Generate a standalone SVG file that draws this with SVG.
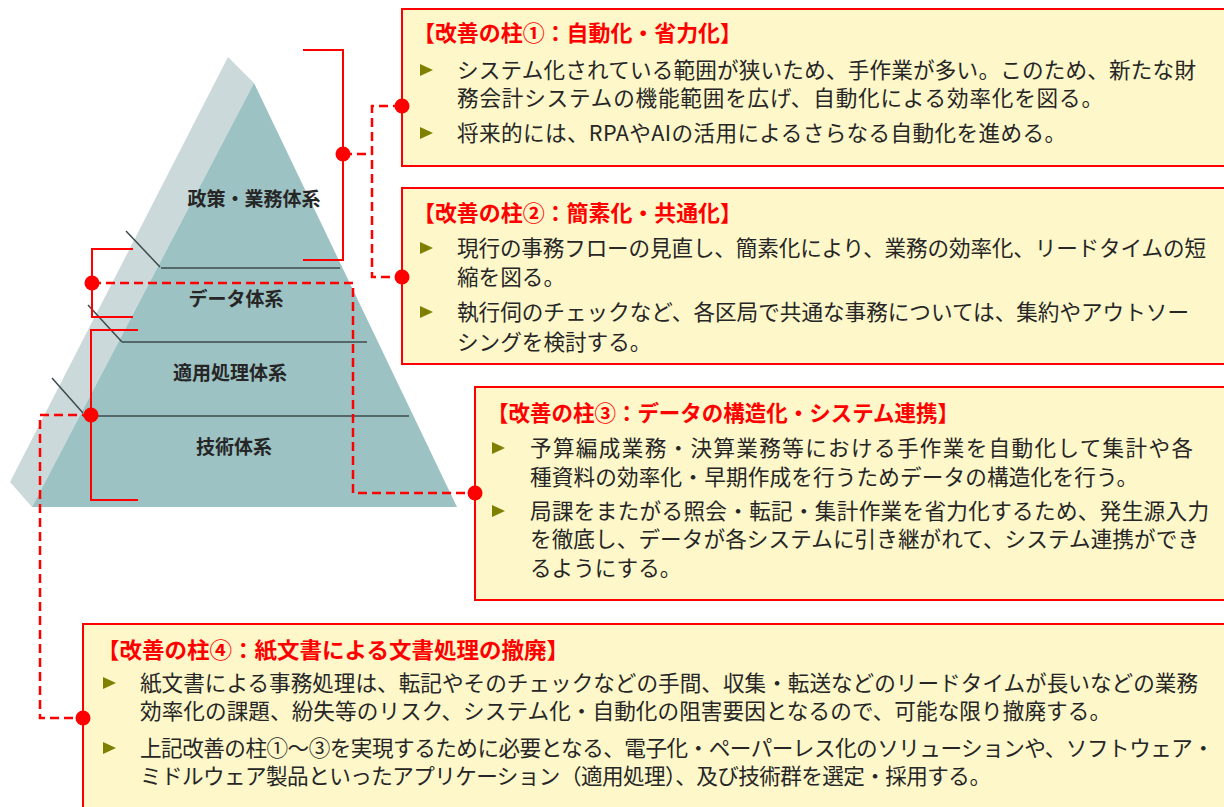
<svg xmlns="http://www.w3.org/2000/svg" xmlns:xlink="http://www.w3.org/1999/xlink" width="1224" height="807" viewBox="0 0 1224 807">
  <style>
    .layer-label { font-family: "Noto Sans CJK JP", sans-serif; font-size: 19px; font-weight: 700; fill: #262626; text-anchor: middle; }
    .tier-line { stroke: #3c4a4a; stroke-width: 1.5; fill: none; }
    .box { fill: #fdf7c9; stroke: #ff0000; stroke-width: 2; }
    .title { font-family: "Noto Sans CJK JP", sans-serif; font-size: 22px; font-weight: 700; fill: #ff0000; }
    .body { font-family: "Noto Sans CJK JP", sans-serif; font-size: 21.6px; fill: #262626; }
    .bracket { stroke: #ff0000; stroke-width: 2; fill: none; }
    .dash { stroke: #ff0000; stroke-width: 2.5; fill: none; stroke-dasharray: 9 5; }
    .dot { fill: #ff0000; }
  </style>
  <defs>
    <path id="tri" d="M0,-6 L13,0 L0,6 Z" fill="#7f7f00"/>
  </defs>
  <rect width="1224" height="807" fill="#ffffff"/>

  <!-- pyramid of system layers -->
  <g id="pyramid">
    <polygon points="228,57 254,83 32,507 10,482" fill="#cbd9da"/>
    <polygon points="254,83 457,507 32,507" fill="#9dc2c3"/>
    <line class="tier-line" x1="161" y1="268" x2="340" y2="268"/>
    <line class="tier-line" x1="122" y1="342" x2="367" y2="342"/>
    <line class="tier-line" x1="83" y1="416" x2="409" y2="416"/>
    <line class="tier-line" x1="126" y1="231" x2="160" y2="267"/>
    <line class="tier-line" x1="88" y1="305" x2="122" y2="342"/>
    <line class="tier-line" x1="52" y1="378" x2="83" y2="413"/>
  </g>
  <g id="layer-policy"><text class="layer-label" x="254" y="206">政策・業務体系</text></g>
  <g id="layer-data"><text class="layer-label" x="236" y="306">データ体系</text></g>
  <g id="layer-application"><text class="layer-label" x="230" y="380">適用処理体系</text></g>
  <g id="layer-technology"><text class="layer-label" x="234" y="454">技術体系</text></g>

  <!-- pillar 1 -->
  <g id="pillar-1">
    <rect class="box" x="402" y="9" width="826" height="157"/>
    <text class="title" x="413" y="41" textLength="329" lengthAdjust="spacingAndGlyphs">【改善の柱①：自動化・省力化】</text>
    <use xlink:href="#tri" x="420" y="70"/>
    <use xlink:href="#tri" x="420" y="133"/>
    <text class="body" x="457" y="78" textLength="739" lengthAdjust="spacing">システム化されている範囲が狭いため、手作業が多い。このため、新たな財</text>
    <text class="body" x="457" y="106" textLength="646" lengthAdjust="spacing">務会計システムの機能範囲を広げ、自動化による効率化を図る。</text>
    <text class="body" x="457" y="141" textLength="609" lengthAdjust="spacing">将来的には、RPAやAIの活用によるさらなる自動化を進める。</text>
  </g>

  <!-- pillar 2 -->
  <g id="pillar-2">
    <rect class="box" x="402" y="188" width="826" height="176"/>
    <text class="title" x="413" y="221" textLength="329" lengthAdjust="spacingAndGlyphs">【改善の柱②：簡素化・共通化】</text>
    <use xlink:href="#tri" x="420" y="248"/>
    <use xlink:href="#tri" x="420" y="312"/>
    <text class="body" x="457" y="256" textLength="749" lengthAdjust="spacing">現行の事務フローの見直し、簡素化により、業務の効率化、リードタイムの短</text>
    <text class="body" x="457" y="285">縮を図る。</text>
    <text class="body" x="457" y="320" textLength="732" lengthAdjust="spacing">執行伺のチェックなど、各区局で共通な事務については、集約やアウトソー</text>
    <text class="body" x="457" y="350">シングを検討する。</text>
  </g>

  <!-- pillar 3 -->
  <g id="pillar-3">
    <rect class="box" x="475" y="387" width="753" height="213"/>
    <text class="title" x="487" y="421" textLength="472" lengthAdjust="spacingAndGlyphs">【改善の柱③：データの構造化・システム連携】</text>
    <use xlink:href="#tri" x="492" y="448"/>
    <use xlink:href="#tri" x="492" y="511"/>
    <text class="body" x="530" y="456" textLength="663" lengthAdjust="spacing">予算編成業務・決算業務等における手作業を自動化して集計や各</text>
    <text class="body" x="530" y="485" textLength="608" lengthAdjust="spacing">種資料の効率化・早期作成を行うためデータの構造化を行う。</text>
    <text class="body" x="530" y="519" textLength="679" lengthAdjust="spacing">局課をまたがる照会・転記・集計作業を省力化するため、発生源入力</text>
    <text class="body" x="530" y="547" textLength="669" lengthAdjust="spacing">を徹底し、データが各システムに引き継がれて、システム連携ができ</text>
    <text class="body" x="530" y="576">るようにする。</text>
  </g>

  <!-- pillar 4 -->
  <g id="pillar-4">
    <rect class="box" x="83" y="624" width="1145" height="190"/>
    <text class="title" x="97" y="658" textLength="472" lengthAdjust="spacingAndGlyphs">【改善の柱④：紙文書による文書処理の撤廃】</text>
    <use xlink:href="#tri" x="103" y="683"/>
    <use xlink:href="#tri" x="103" y="748"/>
    <text class="body" x="140" y="691" textLength="1058" lengthAdjust="spacing">紙文書による事務処理は、転記やそのチェックなどの手間、収集・転送などのリードタイムが長いなどの業務</text>
    <text class="body" x="140" y="719" textLength="971" lengthAdjust="spacing">効率化の課題、紛失等のリスク、システム化・自動化の阻害要因となるので、可能な限り撤廃する。</text>
    <text class="body" x="140" y="756" textLength="1074" lengthAdjust="spacing">上記改善の柱①～③を実現するために必要となる、電子化・ペーパーレス化のソリューションや、ソフトウェア・</text>
    <text class="body" x="140" y="784" textLength="851" lengthAdjust="spacing">ミドルウェア製品といったアプリケーション（適用処理）、及び技術群を選定・採用する。</text>
  </g>

  <!-- brackets and dashed leaders from pyramid tiers to the pillars -->
  <g id="connectors">
    <polyline class="bracket" points="303,50 343,50 343,260 303,260"/>
    <polyline class="bracket" points="133,249 92,249 92,317 133,317"/>
    <polyline class="bracket" points="138,330 91,330 91,500 138,500"/>
    <path class="dash" d="M343,154 H372 M402,106 H372 V277 H402"/>
    <path class="dash" d="M92,283 H353 V493 H475"/>
    <path class="dash" d="M91,415 H40 V718 H83"/>
    <circle class="dot" cx="343" cy="154" r="7.5"/>
    <circle class="dot" cx="92" cy="283" r="7.5"/>
    <circle class="dot" cx="91" cy="415" r="7.5"/>
    <circle class="dot" cx="402" cy="106" r="7.5"/>
    <circle class="dot" cx="402" cy="277" r="7.5"/>
    <circle class="dot" cx="475" cy="493" r="7.5"/>
    <circle class="dot" cx="83" cy="718" r="7.5"/>
  </g>
</svg>
